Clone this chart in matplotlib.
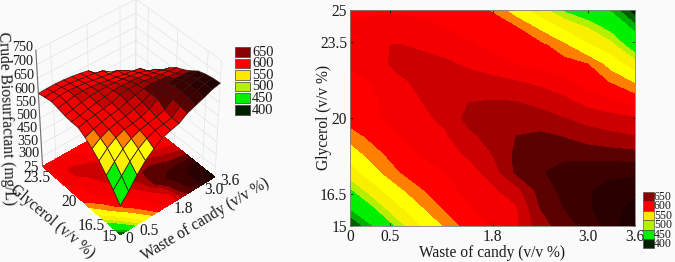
import numpy as np
import matplotlib
matplotlib.use('Agg')
import matplotlib.pyplot as plt
from matplotlib.colors import BoundaryNorm, ListedColormap
from matplotlib.patches import Rectangle

plt.rcParams['font.family'] = ['Liberation Serif', 'DejaVu Serif']

# values, one row per glycerol step
candy = np.linspace(0, 3.6, 13)
glycerol = np.linspace(15, 25, 13)
biosurfactant = np.array([
    [395, 440, 495, 540, 572, 600, 612, 622, 648, 662, 676, 692, 700],
    [442, 487, 532, 567, 593, 608, 616, 623, 655, 670, 683, 692, 698],
    [485, 527, 563, 588, 605, 614, 622, 634, 661, 674, 684, 689, 692],
    [525, 562, 588, 604, 610, 618, 632, 658, 668, 676, 681, 682, 682],
    [555, 582, 600, 611, 617, 628, 640, 658, 665, 665, 663, 661, 659],
    [580, 597, 608, 618, 623, 636, 646, 655, 658, 654, 647, 643, 640],
    [600, 608, 615, 622, 628, 645, 648, 650, 645, 640, 634, 630, 626],
    [600, 608, 617, 625, 631, 639, 640, 639, 635, 628, 618, 610, 601],
    [604, 611, 622, 628, 631, 632, 630, 626, 621, 614, 603, 588, 567],
    [612, 620, 628, 630, 628, 622, 616, 610, 603, 598, 590, 558, 522],
    [618, 623, 626, 623, 618, 612, 606, 600, 597, 577, 545, 520, 470],
    [612, 616, 617, 614, 610, 605, 600, 592, 565, 535, 510, 478, 430],
    [605, 607, 608, 606, 602, 596, 588, 555, 522, 485, 462, 435, 385],
])

levels = [370, 400, 420, 440, 490, 510, 540, 570, 590, 610, 625, 640, 655, 670, 685, 695, 720]
band_colors = ['#001a00', '#006000', '#00b000', '#00f000', '#b4f000', '#f8f000', '#ffff00', '#ff8000',
               '#ff0000', '#f40000', '#cc0000', '#a00000', '#5a0000', '#3c0000', '#2a0000', '#1e0000']
legend_labels = ['650', '600', '550', '500', '450', '400']
legend_colors = ['#8b0000', '#ff0000', '#ffe800', '#b4f000', '#00f000', '#002000']

x_ticks = [0, 0.5, 1.8, 3.0, 3.6]
x_tick_labels = ['0', '0.5', '1.8', '3.0', '3.6']
y_ticks = [15, 16.5, 20, 23.5, 25]
y_tick_labels = ['15', '16.5', '20', '23.5', '25']
# the original axis has these nine labels evenly spaced, 400 is skipped
z_tick_labels = ['300', '350', '450', '500', '550', '600', '650', '700', '750']

bg = '#fafafa'
ink = '#1a1a1a'
fs = 11.2
Z_FLOOR = 250
Z_TOP = 800

fig = plt.figure(figsize=(6.75, 2.62), dpi=100, facecolor=bg)
X, Y = np.meshgrid(candy, glycerol)

# contour map on the right
ax = fig.add_axes([350 / 675, 1 - 226 / 262, 285 / 675, 216 / 262])
ax.contourf(X, Y, biosurfactant, levels=levels, colors=band_colors)
ax.set_xticks(x_ticks, x_tick_labels, fontsize=fs, color=ink)
ax.set_yticks(y_ticks, y_tick_labels, fontsize=fs, color=ink)
ax.tick_params(length=2, width=0.5, pad=2, direction='in', top=True, right=True)
ax.set_xlabel('Waste of candy (v/v %)', fontsize=fs, color=ink, labelpad=0)
ax.set_ylabel('Glycerol (v/v %)', fontsize=fs, color=ink, labelpad=-9)
for s in ax.spines.values():
    s.set_color('#808080')
    s.set_linewidth(0.6)

# surface on the left
ax3 = fig.add_axes([-0.005, 0.055, 0.38, 0.98], projection='3d', computed_zorder=False)
ax3.set_facecolor('none')
ax3.set_axis_off()
ax3.set_box_aspect((1, 1, 1.23), zoom=0.9)
ax3.view_init(elev=42, azim=-130)
ax3.set_xlim(0, 3.6)
ax3.set_ylim(15, 25)
ax3.set_zlim(Z_FLOOR, Z_TOP)
ax3.set_xticks([])
ax3.set_yticks([])
ax3.set_zticks([])
z_tick_pos = np.linspace(300, Z_TOP, len(z_tick_labels))

# faint walls at the back
wall = '#e4e4e4'
for t in x_ticks:
    ax3.plot([t, t], [25, 25], [Z_FLOOR, Z_TOP], color=wall, lw=0.5, zorder=1)
for t in y_ticks:
    ax3.plot([3.6, 3.6], [t, t], [Z_FLOOR, Z_TOP], color=wall, lw=0.5, zorder=1)
for t in z_tick_pos:
    ax3.plot([0, 3.6, 3.6], [25, 25, 15], [t, t, t], color=wall, lw=0.5, zorder=1)

ax3.contourf(X, Y, biosurfactant, levels=levels, colors=band_colors, zdir='z', offset=Z_FLOOR, zorder=2)

cmap = ListedColormap(band_colors)
norm = BoundaryNorm(levels, cmap.N)
cell_mean = (biosurfactant[:-1, :-1] + biosurfactant[1:, :-1] + biosurfactant[:-1, 1:] + biosurfactant[1:, 1:]) / 4
face = np.zeros(biosurfactant.shape + (4,))
face[:-1, :-1] = cmap(norm(cell_mean))
ax3.plot_surface(X, Y, biosurfactant, facecolors=face, rstride=1, cstride=1, shade=False,
                 edgecolor='#301010', linewidth=0.5, zorder=3)

# z axis line and tick labels
ax3.plot([0, 0], [25, 25], [Z_FLOOR, Z_TOP], color='#707070', lw=0.8, zorder=4)
for t, lab in zip(z_tick_pos, z_tick_labels):
    ax3.text(0, 25.4, t, lab, fontsize=10.2, color=ink, rotation=15, ha='right', va='center',
             rotation_mode='anchor', zorder=5)
for t, lab in zip(x_ticks, x_tick_labels):
    ax3.text(t, 14.4, Z_FLOOR, lab, fontsize=fs, color=ink, rotation=62, ha='left', va='center',
             rotation_mode='anchor', zorder=5)
for t, lab in zip(y_ticks, y_tick_labels):
    ax3.text(-0.12, t, Z_FLOOR, lab, fontsize=fs, color=ink, rotation=40, ha='right', va='center',
             rotation_mode='anchor', zorder=5)

fig.text(6 / 675, 1 - 118 / 262, 'Crude Biosurfactant (mg/L)', fontsize=fs, color=ink, rotation=-88, ha='center', va='center')
fig.text(52 / 675, 1 - 222 / 262, 'Glycerol (v/v %)', fontsize=fs, color=ink, rotation=-40, ha='center', va='center', rotation_mode='anchor')
fig.text(205 / 675, 1 - 220 / 262, 'Waste of candy (v/v %)', fontsize=fs, color=ink, rotation=31, ha='center', va='center', rotation_mode='anchor')

# the two legends
top = fig.add_axes([0, 0, 1, 1], facecolor='none')
top.set_xlim(0, 675)
top.set_ylim(262, 0)
top.set_axis_off()
for i, (lab, c) in enumerate(zip(legend_labels, legend_colors)):
    top.add_patch(Rectangle((235, 47 + i * 11.6), 15, 9.5, facecolor=c, edgecolor='#404040', lw=0.5))
    top.text(252, 52 + i * 11.6, lab, fontsize=10.4, color=ink, va='center', ha='left')
    top.add_patch(Rectangle((643, 192 + i * 9.4), 11, 9.4, facecolor=c, edgecolor='#404040', lw=0.4))
    top.text(654, 197 + i * 9.4, lab, fontsize=8.5, color=ink, va='center', ha='left')

fig.savefig('out.png', dpi=100, facecolor=bg)
